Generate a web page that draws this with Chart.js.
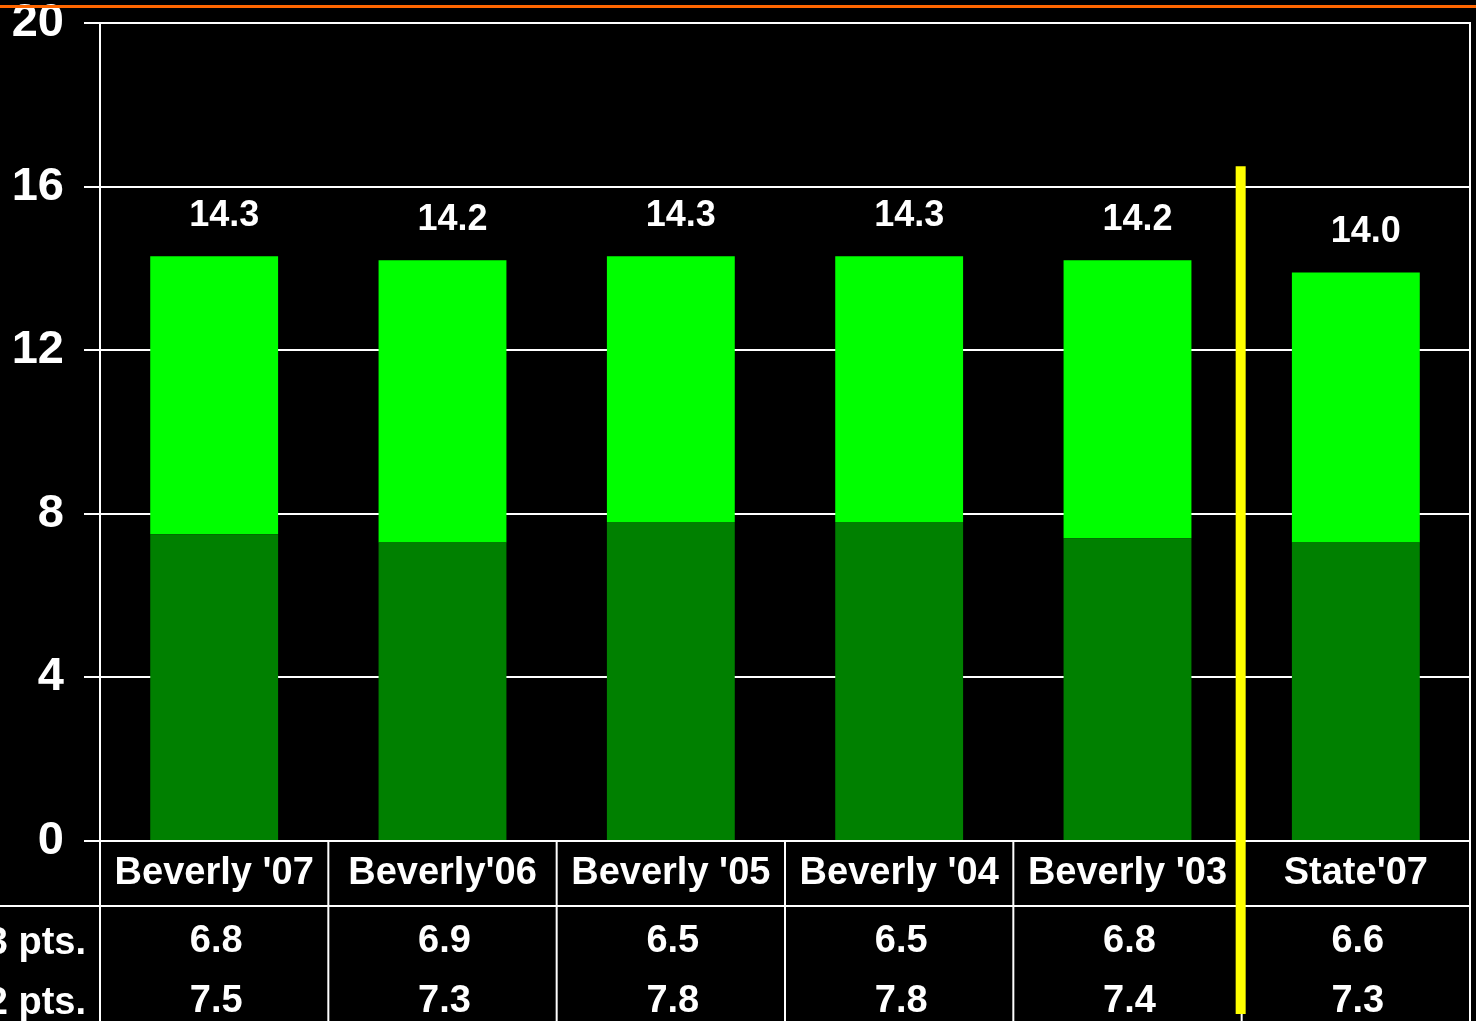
<!DOCTYPE html>
<html>
<head>
<meta charset="utf-8">
<script src="https://cdn.jsdelivr.net/npm/chart.js@4/dist/chart.umd.min.js"></script>
<style>
  html, body { margin: 0; padding: 0; background: #000; }
  #wrap { width: 1476px; height: 1021px; }
</style>
</head>
<body>
<div id="wrap"><canvas id="c"></canvas></div>
<script>
// categories, series and tick values
const CATEGORIES = ["Beverly '07", "Beverly'06", "Beverly '05", "Beverly '04", "Beverly '03", "State'07"];
const PTS_2 = [7.5, 7.3, 7.8, 7.8, 7.4, 7.3];
const PTS_3 = [6.8, 6.9, 6.5, 6.5, 6.8, 6.6];
const TOTALS = ["14.3", "14.2", "14.3", "14.3", "14.2", "14.0"];
const ROW_LABELS = ["3 pts.", "2 pts."];
const Y_TICKS = [0, 4, 8, 12, 16, 20];

const FONT = "'Liberation Sans', Arial, sans-serif";
const WHITE = "#ffffff";

const slidePlugin = {
  id: "slide",
  afterDraw(chart) {
    const { ctx, chartArea: area, scales } = chart;
    const x = scales.x;
    const y = scales.y;
    const colW = (area.right - area.left) / CATEGORIES.length;
    const H = chart.height;

    ctx.save();

    // orange rule at the very top
    ctx.strokeStyle = "#ff6600";
    ctx.lineWidth = 3;
    ctx.beginPath();
    ctx.moveTo(0, 6.5);
    ctx.lineTo(chart.width, 6.5);
    ctx.stroke();

    // right border of the plot, running down through the table
    ctx.strokeStyle = WHITE;
    ctx.lineWidth = 2;
    ctx.beginPath();
    ctx.moveTo(area.right, area.top - 1);
    ctx.lineTo(area.right, H);
    ctx.stroke();

    // table grid
    const headerBottom = area.bottom + 65;
    ctx.beginPath();
    ctx.moveTo(0, headerBottom);
    ctx.lineTo(area.right, headerBottom);
    for (let i = 0; i < CATEGORIES.length; i++) {
      const bx = area.left + i * colW;
      ctx.moveTo(bx, area.bottom);
      ctx.lineTo(bx, H);
    }
    ctx.stroke();

    // totals above bars
    ctx.fillStyle = WHITE;
    ctx.textAlign = "center";
    ctx.textBaseline = "middle";
    ctx.font = "bold 36px " + FONT;
    CATEGORIES.forEach((c, i) => {
      const top = y.getPixelForValue(PTS_2[i] + PTS_3[i]);
      ctx.fillText(TOTALS[i], x.getPixelForValue(i) + 10, top - 40);
    });

    // category header and value rows
    ctx.font = "bold 38px " + FONT;
    CATEGORIES.forEach((c, i) => {
      const cx = x.getPixelForValue(i);
      ctx.fillText(c, cx, area.bottom + 33);
      ctx.fillText(PTS_3[i].toFixed(1), cx + 2, area.bottom + 101);
      ctx.fillText(PTS_2[i].toFixed(1), cx + 2, area.bottom + 161);
    });

    ctx.textAlign = "right";
    ctx.fillText(ROW_LABELS[0], 86, area.bottom + 103);
    ctx.fillText(ROW_LABELS[1], 86, area.bottom + 163);

    // yellow separator before the state column
    const sx = area.left + 5 * colW - 1;
    ctx.strokeStyle = "#ffff00";
    ctx.lineWidth = 10;
    ctx.beginPath();
    ctx.moveTo(sx, y.getPixelForValue(16.5));
    ctx.lineTo(sx, H - 7);
    ctx.stroke();

    ctx.restore();
  }
};

new Chart(document.getElementById("c"), {
  type: "bar",
  data: {
    labels: CATEGORIES,
    datasets: [
      { label: "2 pts.", data: PTS_2, backgroundColor: "#008000" },
      { label: "3 pts.", data: PTS_3, backgroundColor: "#00ff00" },
    ],
  },
  options: {
    responsive: true,
    maintainAspectRatio: false,
    animation: false,
    layout: { padding: { top: 23, right: 6, bottom: 180, left: 0 } },
    plugins: {
      legend: { display: false },
      tooltip: { enabled: false },
    },
    datasets: {
      bar: { categoryPercentage: 1, barPercentage: 0.56 },
    },
    scales: {
      x: {
        stacked: true,
        ticks: { display: false },
        grid: { display: false, drawTicks: false },
        border: { display: false },
      },
      y: {
        stacked: true,
        min: 0,
        max: 20,
        afterBuildTicks(axis) {
          axis.ticks = Y_TICKS.map((v) => ({ value: v }));
        },
        afterFit(axis) {
          axis.width = 100;
          axis.paddingTop = 0;
          axis.paddingBottom = 0;
        },
        ticks: {
          color: WHITE,
          padding: 20,
          font: { family: FONT, size: 47, weight: "bold", lineHeight: 1 },
        },
        grid: { color: WHITE, lineWidth: 2, tickLength: 16 },
        border: { display: true, color: WHITE, width: 2 },
      },
    },
  },
  plugins: [slidePlugin],
});
</script>
</body>
</html>
